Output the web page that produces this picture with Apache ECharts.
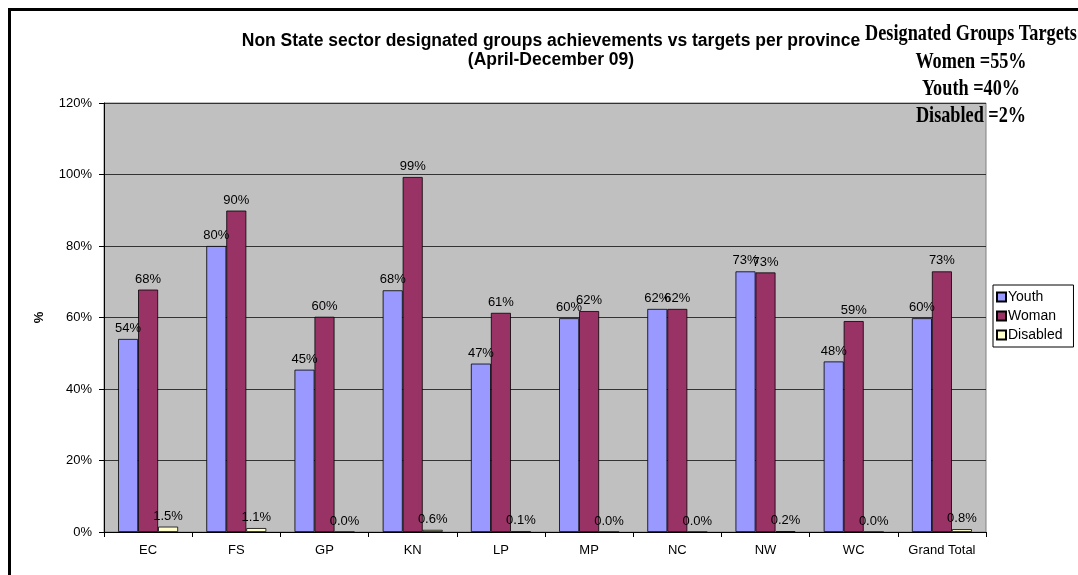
<!DOCTYPE html>
<html>
<head>
<meta charset="utf-8">
<script src="https://cdn.jsdelivr.net/npm/echarts@6/dist/echarts.min.js"></script>
<style>
html,body{margin:0;padding:0;background:#fff;}
#frame{position:absolute;left:8px;top:8px;width:1080px;height:580px;border-left:3px solid #000;border-top:3px solid #000;}
#chart{position:absolute;left:0;top:0;width:1078px;height:575px;}
</style>
</head>
<body>
<div id="frame"></div>
<div id="chart"></div>
<script>
const categories = ['EC','FS','GP','KN','LP','MP','NC','NW','WC','Grand Total'];
const youth    = [54.0, 80.0, 45.4, 67.6, 47.1, 59.8, 62.4, 72.9, 47.7, 59.8];
const woman    = [67.8, 89.9, 60.2, 99.3, 61.3, 61.8, 62.4, 72.6, 59.0, 72.9];
const disabled = [1.5, 1.1, 0.0, 0.6, 0.1, 0.0, 0.0, 0.2, 0.0, 0.8];
const yTicks = [0, 20, 40, 60, 80, 100, 120];
const targetLines = ['Designated Groups Targets', 'Women =55%', 'Youth =40%', 'Disabled =2%'];

const chart = echarts.init(document.getElementById('chart'));
const font = 'Liberation Sans, Arial, sans-serif';
const lbl = (dec) => ({
  show: true, position: 'top', distance: 4,
  fontFamily: font, fontSize: 13, color: '#000',
  formatter: p => p.value.toFixed(dec) + '%'
});
const targetGraphics = targetLines.map((t, i) => ({
  type: 'text', x: 971, y: 34 + i * 27.3,
  scaleX: 0.76,
  style: {
    text: t, fontFamily: 'Liberation Serif, serif', fontWeight: 'bold',
    fontSize: 24, fill: '#000', textAlign: 'center', textVerticalAlign: 'middle',
    shadowColor: 'rgba(0,0,0,0.35)', shadowOffsetX: 1, shadowOffsetY: 1, shadowBlur: 1
  },
  z: 100
}));
chart.setOption({
  animation: false,
  backgroundColor: 'transparent',
  title: {
    text: 'Non State sector designated groups achievements vs targets per province\n(April-December 09)',
    left: 546, top: 27, textAlign: 'center',
    textStyle: {fontFamily: font, fontSize: 17.5, fontWeight: 'bold', color: '#000', lineHeight: 19}
  },
  legend: {
    orient: 'vertical', left: 993, top: 285,
    padding: [5, 11, 5, 3],
    borderColor: '#000', borderWidth: 1, backgroundColor: '#fff',
    itemWidth: 9, itemHeight: 9, itemGap: 5,
    textStyle: {fontFamily: font, fontSize: 14, color: '#000', padding: [0, 0, 0, -3], lineHeight: 14},
    icon: 'rect',
    data: ['Youth', 'Woman', 'Disabled']
  },
  grid: {left: 104, top: 103, right: 92, bottom: 43, show: true, backgroundColor: '#C0C0C0', borderColor: '#808080', borderWidth: 1},
  xAxis: {
    type: 'category', data: categories,
    axisLine: {lineStyle: {color: '#000', width: 1}},
    axisTick: {show: true, length: 5, lineStyle: {color: '#000'}},
    axisLabel: {fontFamily: font, fontSize: 13, color: '#000', margin: 12, interval: 0}
  },
  yAxis: {
    type: 'value', min: 0, max: 120, interval: 20,
    name: '%', nameLocation: 'middle', nameGap: 58, nameRotate: 90,
    nameTextStyle: {fontFamily: font, fontSize: 13, fontWeight: 'bold', color: '#000'},
    axisLine: {show: true, lineStyle: {color: '#000', width: 1}},
    axisTick: {show: true, length: 5, lineStyle: {color: '#000'}},
    axisLabel: {fontFamily: font, fontSize: 13, color: '#000', margin: 12, formatter: v => yTicks.includes(v) ? v + '%' : ''},
    splitLine: {lineStyle: {color: '#333', width: 1}}
  },
  series: [
    {name: 'Youth', type: 'bar', data: youth, barGap: '0%', barCategoryGap: '32%',
     itemStyle: {color: '#9999FF', borderColor: '#000', borderWidth: 0.8}, label: lbl(0)},
    {name: 'Woman', type: 'bar', data: woman,
     itemStyle: {color: '#993366', borderColor: '#000', borderWidth: 0.8}, label: lbl(0)},
    {name: 'Disabled', type: 'bar', data: disabled,
     itemStyle: {color: '#FFFFCC', borderColor: '#000', borderWidth: 0.8}, label: lbl(1)}
  ],
  graphic: targetGraphics
});
</script>
</body>
</html>
